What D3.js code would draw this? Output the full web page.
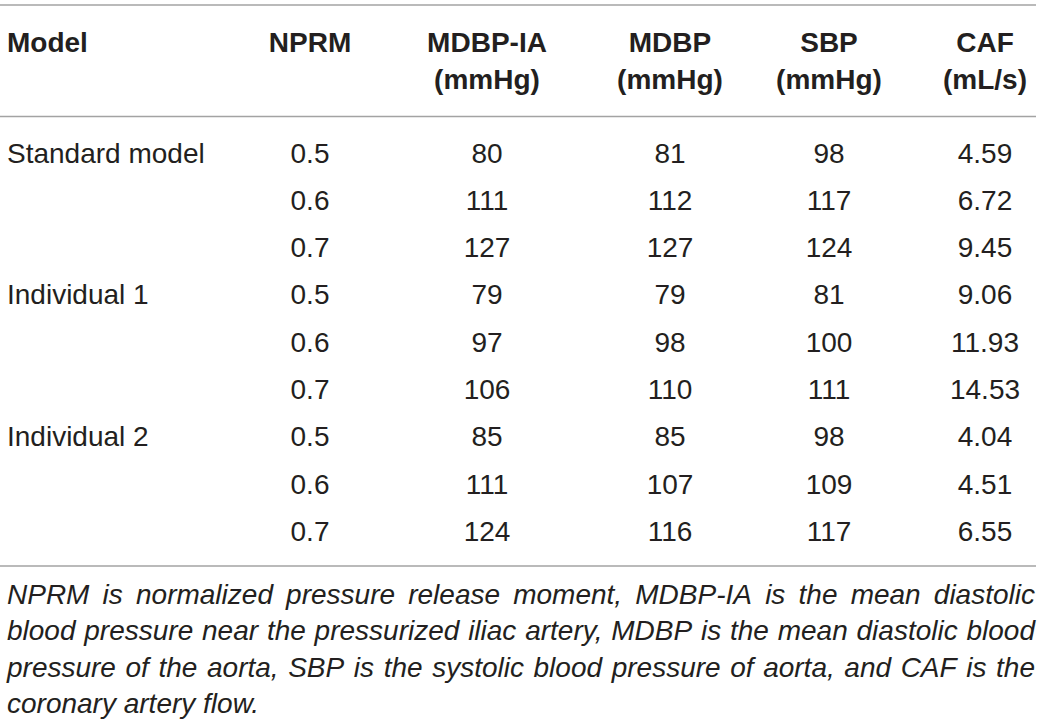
<!DOCTYPE html>
<html>
<head>
<meta charset="utf-8">
<script src="https://cdn.jsdelivr.net/npm/d3@7"></script>
<style>
  html, body { margin: 0; padding: 0; background: #fff; }
  svg { display: block; }
</style>
</head>
<body>
<svg id="chart" width="1042" height="727"></svg>
<script>
// ---- data ----
const headerLine1 = ["Model", "NPRM", "MDBP-IA", "MDBP", "SBP", "CAF"];
const headerLine2 = ["", "", "(mmHg)", "(mmHg)", "(mmHg)", "(mL/s)"];
const models = ["Standard model", "", "", "Individual 1", "", "", "Individual 2", "", ""];
const nprm   = ["0.5", "0.6", "0.7", "0.5", "0.6", "0.7", "0.5", "0.6", "0.7"];
const mdbpIA = ["80", "111", "127", "79", "97", "106", "85", "111", "124"];
const mdbp   = ["81", "112", "127", "79", "98", "110", "85", "107", "116"];
const sbp    = ["98", "117", "124", "81", "100", "111", "98", "109", "117"];
const caf    = ["4.59", "6.72", "9.45", "9.06", "11.93", "14.53", "4.04", "4.51", "6.55"];
const footnoteLines = [
  "NPRM is normalized pressure release moment, MDBP-IA is the mean diastolic",
  "blood pressure near the pressurized iliac artery, MDBP is the mean diastolic blood",
  "pressure of the aorta, SBP is the systolic blood pressure of aorta, and CAF is the",
  "coronary artery flow."
];

// ---- layout ----
const svg = d3.select("#chart");
const font = "'Liberation Sans', Arial, Helvetica, sans-serif";
const textColor = "#231f20";
const ruleColor = "#a3a3a3";
const left = 7, right = 1035;
const fs = 28;

const columns = [models, nprm, mdbpIA, mdbp, sbp, caf];
const colX = d3.scaleOrdinal().domain(d3.range(6)).range([7, 310, 487, 670, 829, 985]);
const rowY = d3.scaleLinear().domain([0, 8]).range([162.5, 541]);

// rules
const rules = [5, 116.5, 566];
svg.selectAll("line.rule").data(rules).join("line")
  .attr("class", "rule")
  .attr("x1", 0).attr("x2", right + 1)
  .attr("y1", d => d).attr("y2", d => d)
  .attr("stroke", ruleColor).attr("stroke-width", 1.6);

// header
const hdr = svg.append("g").attr("font-family", font).attr("font-size", fs)
  .attr("font-weight", "bold").attr("fill", textColor);
[headerLine1, headerLine2].forEach((line, li) => {
  hdr.selectAll("text.h" + li).data(line).join("text")
    .attr("class", "h" + li)
    .attr("x", (d, i) => colX(i))
    .attr("y", li === 0 ? 52 : 89)
    .attr("text-anchor", (d, i) => i === 0 ? "start" : "middle")
    .text(d => d);
});

// body
const body = svg.append("g").attr("font-family", font).attr("font-size", fs)
  .attr("fill", textColor);
columns.forEach((col, ci) => {
  body.selectAll("text.c" + ci).data(col).join("text")
    .attr("class", "c" + ci)
    .attr("x", colX(ci))
    .attr("y", (d, ri) => rowY(ri))
    .attr("text-anchor", ci === 0 ? "start" : "middle")
    .text(d => d);
});

// footnote (justified, italic)
const foot = svg.append("g").attr("font-family", font).attr("font-size", fs)
  .attr("font-style", "italic").attr("fill", textColor);
const footY = d3.scaleLinear().domain([0, 3]).range([603.5, 713]);
footnoteLines.forEach((line, li) => {
  const words = line.split(" ");
  const g = foot.append("g");
  const nodes = words.map(w => g.append("text").attr("y", footY(li)).text(w));
  const widths = nodes.map(n => n.node().getComputedTextLength());
  const total = d3.sum(widths);
  const last = li === footnoteLines.length - 1;
  let gap;
  if (last) {
    const sp = g.append("text").text("a a");
    const sa = g.append("text").text("aa");
    gap = sp.node().getComputedTextLength() - sa.node().getComputedTextLength();
    sp.remove(); sa.remove();
  } else {
    gap = (right - left - total) / (words.length - 1);
  }
  let x = left;
  nodes.forEach((n, i) => { n.attr("x", x); x += widths[i] + gap; });
});
</script>
</body>
</html>
